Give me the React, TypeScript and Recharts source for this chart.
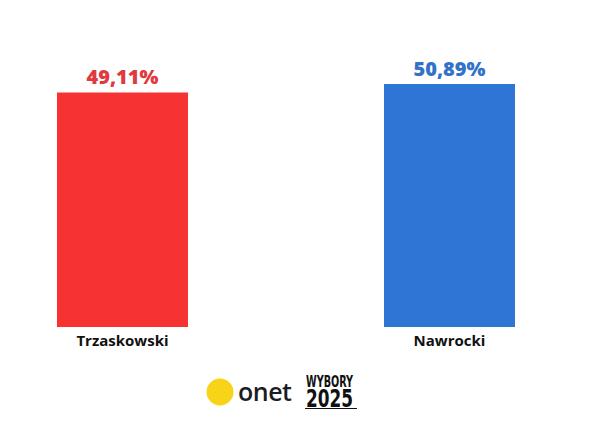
import { BarChart, Bar, XAxis, YAxis, Cell, LabelList } from "recharts";

const candidates = ["Trzaskowski", "Nawrocki"];
const results = [49.11, 50.89];
const barColors = ["#f63232", "#2e75d6"];
const labelColors = ["#e03a3e", "#3272c8"];

const data = candidates.map((name, i) => ({ name, value: results[i] }));

const fmt = (v: number) => v.toFixed(2).replace(".", ",") + "%";

function ValueLabel(props: any) {
  const { x, y, width, value, index } = props;
  return (
    <text
      x={x + width / 2}
      y={y - 8}
      textAnchor="middle"
      fill={labelColors[index]}
      fontSize={20}
      fontWeight={800}
      fontFamily="'Open Sans', sans-serif"
    >
      {fmt(value)}
    </text>
  );
}

function Logo() {
  return (
    <svg width={190} height={50} style={{ position: "absolute", left: 200, top: 368 }}>
      <circle cx={20} cy={24} r={13.5} fill="#f7d417" />
      <text x={38} y={33} fontSize={25} fontWeight={600} fill="#1d1d1f" fontFamily="'Open Sans', sans-serif" letterSpacing={-0.5}>
        onet
      </text>
      <text x={106} y={19} textLength={47} lengthAdjust="spacingAndGlyphs" fontSize={16} fontWeight={700} fill="#111" fontFamily="'DejaVu Sans Condensed', sans-serif">
        WYBORY
      </text>
      <text x={106} y={39} textLength={47} lengthAdjust="spacingAndGlyphs" fontSize={25} fontWeight={700} fill="#111" fontFamily="'DejaVu Sans Condensed', sans-serif">
        2025
      </text>
      <line x1={105} x2={157} y1={40.5} y2={40.5} stroke="#111" strokeWidth={1} />
    </svg>
  );
}

export default function App() {
  return (
    <div style={{ position: "absolute", left: 0, top: 0, width: 600, height: 421, background: "#fff" }}>
      <BarChart width={600} height={421} data={data} margin={{ top: 84, right: 85, bottom: 64, left: 57 }}>
        <XAxis
          dataKey="name"
          axisLine={false}
          tickLine={false}
          height={30}
          padding={{ left: -98, right: -98 }}
          tick={{ fill: "#111", fontSize: 15, fontWeight: 700, fontFamily: "'Open Sans', sans-serif" }}
        />
        <YAxis hide domain={[0, "dataMax"]} />
        <Bar dataKey="value" barSize={131} isAnimationActive={false}>
          {data.map((d, i) => (
            <Cell key={d.name} fill={barColors[i]} />
          ))}
          <LabelList dataKey="value" content={<ValueLabel />} />
        </Bar>
      </BarChart>
      <Logo />
    </div>
  );
}
